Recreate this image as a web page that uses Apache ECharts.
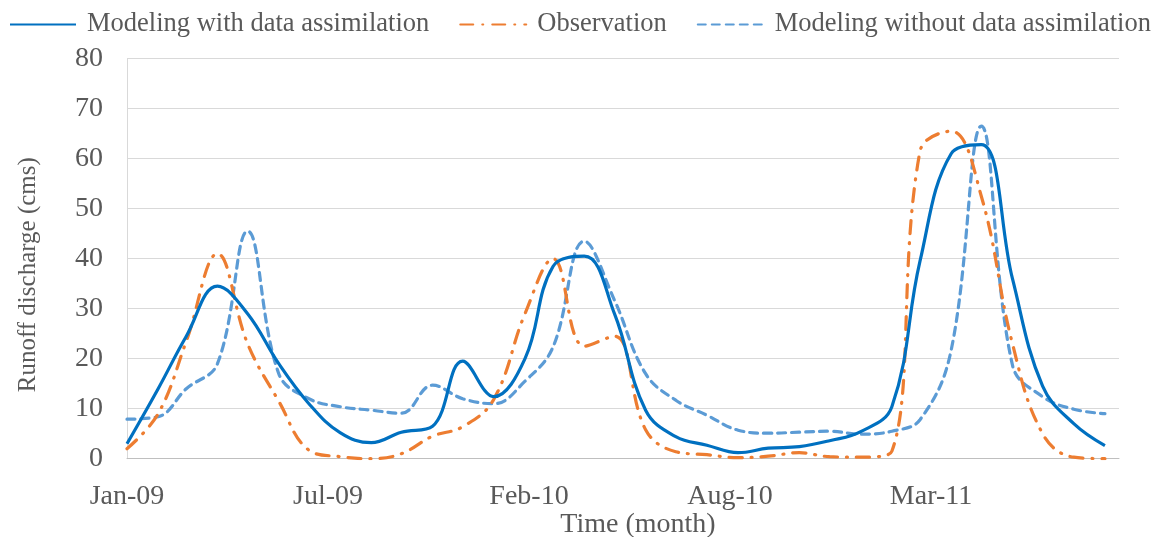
<!DOCTYPE html>
<html>
<head>
<meta charset="utf-8">
<script src="https://cdn.jsdelivr.net/npm/echarts@6/dist/echarts.min.js"></script>
<style>
html,body{margin:0;padding:0;background:#fff;}
#chart{width:1157px;height:537px;}
</style>
</head>
<body>
<div id="chart"></div>
<script>
// Monthly observation dates (first of month)
const months = ['2009-01','2009-02','2009-03','2009-04','2009-05','2009-06','2009-07','2009-08','2009-09','2009-10','2009-11','2009-12',
  '2010-01','2010-02','2010-03','2010-04','2010-05','2010-06','2010-07','2010-08','2010-09','2010-10','2010-11','2010-12',
  '2011-01','2011-02','2011-03','2011-04','2011-05','2011-06','2011-07','2011-08','2011-09'];
const withDA = [3,14,24.5,34.5,29,19,11,5.2,3.2,5.3,6.5,19.5,
  12.4,20,38.5,40.5,29,9.7,4.4,2.7,1.2,2.1,2.4,3.6,
  5.4,10.4,39.5,61,62.8,36,14.5,7,2.6];
const observation = [2,9,23.5,41,23,11.5,1.7,0.4,0,1,4.5,6.4,
  11.9,29,40,22.5,24.5,5.8,1.4,0.8,0.2,0.5,1.2,0.4,
  0.3,1.5,61.5,65.5,52.5,23,5,0.3,0];
const withoutDA = [7.9,8.4,14,19,45.5,17,12,10.4,9.7,9.1,14.7,12,
  11,15.5,22.4,43.5,31.7,17,11.7,8.7,5.7,5.1,5.3,5.5,
  4.9,5.5,7.8,21.7,66.5,18.7,12.4,9.9,9];
const tickLabels = ['Jan-09','Jul-09','Feb-10','Aug-10','Mar-11'];
const seriesNames = ['Modeling with data assimilation','Observation','Modeling without data assimilation'];

const DAY = 86400000;
const t0 = Date.UTC(2009,0,1);
const dayOf = m => { const [y,mo] = m.split('-').map(Number); return (Date.UTC(y,mo-1,1)-t0)/DAY; };
const pts = arr => arr.map((v,i)=>[dayOf(months[i]), v]);

const FONT = '"Liberation Serif","Times New Roman",serif';
const TXT = '#595959';

const chart = echarts.init(document.getElementById('chart'));
chart.setOption({
  animation:false,
  textStyle:{fontFamily:FONT},
  legend:{
    top:11, left:9, padding:0, width:1157, itemWidth:66, itemHeight:14, itemGap:30,
    itemStyle:{opacity:0},
    textStyle:{fontFamily:FONT,fontSize:26.5,color:TXT,padding:[0,0,0,6]},
    data:seriesNames
  },
  grid:{left:127,right:38,top:58.7,bottom:78.3,containLabel:false,outerBoundsMode:'none'},
  xAxis:{
    type:'value', min:0, max:987, interval:200,
    axisLine:{show:true,lineStyle:{color:'#BFBFBF',width:1}},
    axisTick:{show:false},
    splitLine:{show:false},
    axisLabel:{showMaxLabel:false,margin:24,fontFamily:FONT,fontSize:28,color:TXT,
      formatter:v=>tickLabels[Math.round(v/200)]||''},
    name:'Time (month)', nameLocation:'middle', nameGap:52, nameMoveOverlap:false,
    nameTextStyle:{fontFamily:FONT,fontSize:28,color:TXT,padding:[0,0,0,30]}
  },
  yAxis:{
    type:'value', min:0, max:80, interval:10,
    axisLine:{show:true,lineStyle:{color:'#D9D9D9',width:1}},
    axisTick:{show:false},
    splitLine:{lineStyle:{color:'#D9D9D9',width:1}},
    axisLabel:{margin:24,fontFamily:FONT,fontSize:28,color:TXT},
    name:'Runoff discharge (cms)', nameLocation:'middle', nameGap:86, nameMoveOverlap:false,
    nameTextStyle:{fontFamily:FONT,fontSize:25,color:TXT,padding:[0,32,0,0]}
  },
  series:[
    {name:seriesNames[0],type:'line',data:pts(withDA),smooth:0.4,symbol:'none',z:3,
     itemStyle:{color:'#0070C0'},lineStyle:{color:'#0070C0',width:3.2}},
    {name:seriesNames[1],type:'line',data:pts(observation),smooth:0.4,symbol:'none',z:2,
     itemStyle:{color:'#ED7D31'},lineStyle:{color:'#ED7D31',width:3.2,type:[13,9,1,9],cap:'round'}},
    {name:seriesNames[2],type:'line',data:pts(withoutDA),smooth:0.4,symbol:'none',z:1,
     itemStyle:{color:'#5B9BD5'},lineStyle:{color:'#5B9BD5',width:3.2,type:[8,6],cap:'round'}}
  ]
});
</script>
</body>
</html>
